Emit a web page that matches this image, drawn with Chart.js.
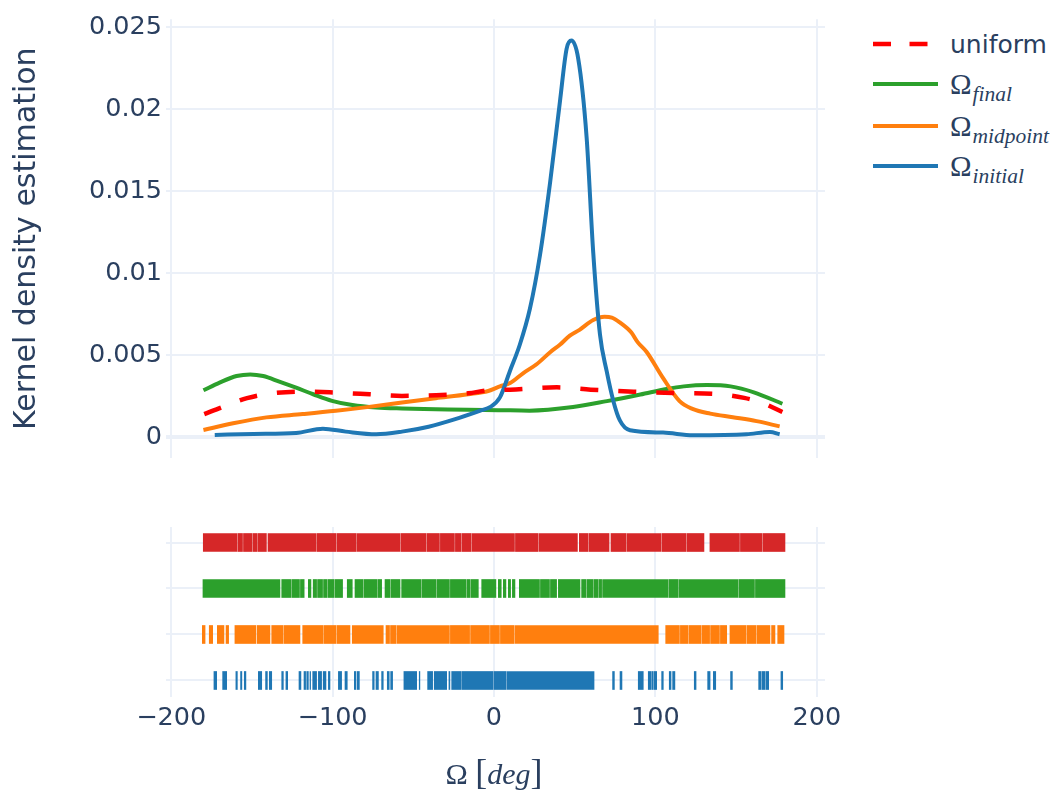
<!DOCTYPE html>
<html>
<head>
<meta charset="utf-8">
<script src="https://cdn.jsdelivr.net/npm/chart.js@4.4.1/dist/chart.umd.min.js"></script>
<style>
  body { margin: 0; background: #fff; width: 1056px; height: 796px; position: relative; overflow: hidden; font-family: "DejaVu Sans", sans-serif; color: #2a3f5f; }
  canvas { position: absolute; left: 0; }
  #kde { top: 0; }
  #rug { top: 470px; }
  #legend { position: absolute; left: 873px; top: 0; z-index: 2; }
  .item { position: absolute; left: 0; height: 40px; display: flex; align-items: center; white-space: nowrap; }
  .item svg { display: block; }
  .item .txt { margin-left: 12px; font-size: 25px; }
  .om { font-family: "Liberation Serif", serif; font-size: 29px; }
  .om sub { font-style: italic; font-size: 21.5px; vertical-align: -7px; line-height: 0; margin-left: 1px; }
  #xtitle { position: absolute; left: 394px; width: 200px; top: 752px; text-align: center; font-family: "Liberation Serif", serif; font-size: 30px; line-height: 40px; z-index: 2; }
  #xtitle .br { font-size: 36px; }
</style>
</head>
<body>
<canvas id="kde" width="870" height="480"></canvas>
<canvas id="rug" width="870" height="326"></canvas>
<div id="legend"></div>
<div id="xtitle">Ω <span class="br">[</span><i>deg</i><span class="br">]</span></div>
<script>
// Ejes
const xMin = -203.2, xMax = 205.1;
const xTicks = [-200, -100, 0, 100, 200];
const xTickLabels = ['\u2212200', '\u2212100', '0', '100', '200'];
const yTicks = [0, 0.005, 0.01, 0.015, 0.02, 0.025];
const yTickLabels = ['0', '0.005', '0.01', '0.015', '0.02', '0.025'];

// Curvas KDE
const uniformX = [-179.5, -168, -153, -139, -118.5, -98, -77, -57, -36, -16, -3.5, 10, 39, 60, 86.5, 111, 138, 155, 165, 178.7];
const uniformY = [0.00141, 0.00185, 0.00238, 0.00266, 0.00278, 0.00272, 0.00262, 0.00252, 0.00256, 0.00268, 0.00286, 0.0029, 0.00304, 0.0029, 0.00278, 0.0027, 0.00264, 0.0024, 0.00214, 0.00154];

const finalX = [-180, -170, -159.5, -151, -143, -133, -122.6, -112, -100.4, -87.7, -73, -57, -36, -16, 2.7, 22, 49, 70, 90.7, 107, 117.6, 132, 146.6, 161, 178.7];
const finalY = [0.00286, 0.00333, 0.00373, 0.00383, 0.00373, 0.00339, 0.00302, 0.00262, 0.00222, 0.00196, 0.00181, 0.00175, 0.00171, 0.00167, 0.00165, 0.00162, 0.00184, 0.0022, 0.0026, 0.00294, 0.0031, 0.00318, 0.0031, 0.00274, 0.00204];

const midX = [-180, -161.6, -141, -118.5, -98, -77.4, -57, -36, -16, -3.5, 3.7, 10, 18, 26.4, 35, 41, 47, 53, 61.5, 68.5, 73, 78, 85, 89, 94.6, 104.8, 115, 123, 134, 148, 162.7, 177];
const midY = [0.00044, 0.00085, 0.00121, 0.00141, 0.00161, 0.00185, 0.00212, 0.00238, 0.00262, 0.00282, 0.0031, 0.0033, 0.0039, 0.00445, 0.0052, 0.00565, 0.0062, 0.00655, 0.00715, 0.00735, 0.0073, 0.007, 0.0064, 0.0058, 0.0052, 0.0036, 0.0022, 0.00173, 0.00144, 0.00122, 0.00098, 0.00066];

const initX = [-173, -149, -122.6, -106, -91.8, -73, -57, -40.5, -24, -7.6, -2.5, 3.7, 9.9, 16, 22.3, 28.5, 34.7, 40.9, 45, 48, 52.2, 57.4, 61.5, 65.7, 69.8, 73.9, 78, 84.3, 104.8, 123.3, 156.5, 171, 177];
const initY = [0.00014, 0.0002, 0.00026, 0.00052, 0.00034, 0.00018, 0.00034, 0.00064, 0.0011, 0.00165, 0.00183, 0.00243, 0.00404, 0.00564, 0.00785, 0.0111, 0.01548, 0.0205, 0.0237, 0.0242, 0.0231, 0.0183, 0.01127, 0.00625, 0.00404, 0.00223, 0.00102, 0.00042, 0.00028, 0.00012, 0.00018, 0.00032, 0.00018];

// Rug: tramos [inicio, fin] de marcas, por fila
const rugRows = ['uniform', 'final', 'midpoint', 'initial'];
const rugUniform = [[-180.1,-159.3],[-158.7,-155.8],[-155.2,-149.8],[-149.2,-147.0],[-146.4,-141.0],[-140.0,-110.1],[-109.5,-97.8],[-97.2,-85.3],[-84.7,-58.1],[-57.5,-42.0],[-41.4,-33.8],[-33.2,-24.5],[-23.9,-20.3],[-19.7,-14.1],[-13.5,12.7],[13.3,27.2],[27.8,51.7],[52.9,58.2],[58.8,71.3],[72.5,81.9],[82.5,103.6],[104.2,119.1],[119.7,130.1],[133.8,152.1],[152.7,166.2],[166.8,180.3]];
const rugFinal = [[-180.3,-132.6],[-131.5,-125.6],[-125.0,-120.5],[-119.9,-117.6],[-115.0,-113.4],[-112.0,-109.9],[-109.3,-106.2],[-105.6,-103.3],[-102.7,-99.2],[-98.6,-93.8],[-90.9,-87.8],[-86.1,-81.2],[-80.6,-72.3],[-71.7,-69.6],[-67.5,-64.5],[-63.9,-58.2],[-57.2,-45.1],[-44.5,-35.8],[-35.2,-27.6],[-27.0,-17.2],[-16.6,-14.7],[-14.1,-9.7],[-7.6,1.2],[2.7,4.5],[5.8,7.4],[8.9,10.3],[11.4,13.0],[15.7,28.2],[28.8,34.4],[35.0,38.8],[39.9,53.3],[54.3,57.1],[57.7,61.2],[61.8,64.3],[64.9,66.7],[67.3,107.7],[108.3,114.2],[114.8,151.1],[151.7,161.4],[162.0,180.3]];
const rugMid = [[-180.7,-179.0],[-176.4,-174.3],[-171.4,-167.3],[-166.0,-164.4],[-160.5,-147.5],[-146.7,-138.8],[-137.7,-130.8],[-130.2,-120.2],[-118.5,-106.1],[-105.5,-97.8],[-97.2,-89.2],[-87.8,-68.6],[-66.9,-64.7],[-64.1,-60.6],[-60.0,-27.6],[-27.0,-15.1],[-14.5,-2.8],[-2.2,3.4],[4.0,12.3],[12.9,101.8],[106.4,114.9],[115.5,120.1],[120.7,128.4],[129.0,133.6],[134.2,139.7],[140.3,144.2],[146.2,156.2],[156.8,162.4],[163.0,171.0],[172.0,174.1],[175.8,179.7]];
const rugInit = [[-173.5,-171.8],[-168.1,-165.6],[-159.9,-159.0],[-157.0,-156.2],[-154.7,-153.7],[-146.0,-143.9],[-141.5,-140.4],[-139.2,-137.7],[-131.5,-130.5],[-128.9,-127.8],[-120.8,-119.6],[-117.7,-116.7],[-116.0,-115.0],[-114.0,-113.6],[-112.3,-109.9],[-108.8,-106.8],[-105.8,-104.1],[-102.6,-101.6],[-96.4,-94.4],[-92.3,-90.9],[-86.5,-85.5],[-84.7,-83.4],[-75.2,-74.2],[-73.1,-71.6],[-69.6,-68.6],[-66.1,-64.9],[-64.0,-62.8],[-55.8,-47.9],[-46.3,-45.9],[-41.1,-38.0],[-37.0,-29.3],[-27.9,-27.3],[-26.2,-20.2],[-19.6,-0.7],[-0.1,7.6],[8.2,62.0],[73.5,74.6],[78.1,79.3],[89.4,92.5],[95.6,97.1],[97.7,98.7],[99.3,100.8],[103.9,104.9],[108.6,109.7],[110.7,112.1],[124.1,125.2],[132.4,133.9],[135.9,137.4],[146.6,147.7],[164.0,165.5],[166.1,168.0],[168.6,170.2],[177.8,178.9]];

const textColor = '#2a3f5f';
const gridColor = '#ebf0f8';
const tickFont = { family: 'DejaVu Sans', size: 25.5 };

const pts = (xs, ys) => xs.map((x, i) => ({ x: x, y: ys[i] }));
const fixTicks = vals => scale => { scale.ticks = vals.map(v => ({ value: v })); };

// Gráfico superior: estimación de densidad
const kdeSeries = [
    { label: 'uniform', sub: null, data: pts(uniformX, uniformY), color: '#ff0000', dash: [18, 20], width: 4.5, order: 0 },
    { label: 'final', sub: 'final', data: pts(finalX, finalY), color: '#2ca02c', dash: [], width: 4, order: 3 },
    { label: 'midpoint', sub: 'midpoint', data: pts(midX, midY), color: '#ff7f0e', dash: [], width: 4, order: 2 },
    { label: 'initial', sub: 'initial', data: pts(initX, initY), color: '#1f77b4', dash: [], width: 4, order: 1 }
];

new Chart(document.getElementById('kde'), {
    type: 'line',
    data: {
        datasets: kdeSeries.map(s => ({
            label: s.label,
            data: s.data,
            borderColor: s.color,
            borderDash: s.dash,
            borderWidth: s.width,
            order: s.order,
            fill: false
        }))
    },
    options: {
        responsive: false,
        animation: false,
        layout: { padding: { left: 0, right: 45, top: 14, bottom: 22 } },
        elements: {
            point: { radius: 0 },
            line: { cubicInterpolationMode: 'monotone', borderCapStyle: 'butt' }
        },
        plugins: { legend: { display: false }, tooltip: { enabled: false } },
        scales: {
            x: {
                type: 'linear', min: xMin, max: xMax,
                afterBuildTicks: fixTicks(xTicks),
                ticks: { display: false },
                grid: { color: gridColor, lineWidth: 2, drawTicks: false },
                border: { display: false },
                afterFit: s => { s.height = 0; }
            },
            y: {
                type: 'linear', min: -0.00127, max: 0.0255,
                afterBuildTicks: fixTicks(yTicks),
                ticks: { padding: 4, color: textColor, font: tickFont, callback: (v, i) => yTickLabels[i] },
                grid: { color: gridColor, lineWidth: c => (c.tick && c.tick.value === 0 ? 4 : 2), drawTicks: false },
                border: { display: false },
                title: {
                    display: true, text: 'Kernel density estimation', color: textColor,
                    font: { family: 'DejaVu Sans', size: 30 }, padding: { top: 9, bottom: 0 }
                },
                afterFit: s => { s.width = 166; }
            }
        }
    }
});

// Gráfico inferior: rug
const rugSeries = [
    { segs: rugUniform, color: '#d62728' },
    { segs: rugFinal, color: '#2ca02c' },
    { segs: rugMid, color: '#ff7f0e' },
    { segs: rugInit, color: '#1f77b4' }
];

new Chart(document.getElementById('rug'), {
    type: 'bar',
    data: {
        datasets: rugSeries.map((s, row) => ({
            label: rugRows[row],
            data: s.segs.map(seg => ({ x: seg, y: row })),
            backgroundColor: s.color,
            borderWidth: 0,
            barThickness: 18,
            grouped: false
        }))
    },
    options: {
        indexAxis: 'y',
        responsive: false,
        animation: false,
        layout: { padding: { left: 0, right: 45, top: 57, bottom: 59 } },
        plugins: { legend: { display: false }, tooltip: { enabled: false } },
        scales: {
            x: {
                type: 'linear', min: xMin, max: xMax,
                afterBuildTicks: fixTicks(xTicks),
                ticks: { padding: 6, color: textColor, font: tickFont, maxRotation: 0, autoSkip: false, callback: (v, i) => xTickLabels[i] },
                grid: { color: gridColor, lineWidth: 2, drawTicks: false },
                border: { display: false },
                afterFit: s => { s.height = 40; }
            },
            y: {
                type: 'linear', min: -0.337, max: 3.359, reverse: true, offset: false,
                afterBuildTicks: fixTicks(rugRows.map((r, i) => i)),
                ticks: { display: false },
                grid: { color: gridColor, lineWidth: 2, drawTicks: false, offset: false },
                border: { display: false },
                afterFit: s => { s.width = 166; }
            }
        }
    }
});

// Leyenda en HTML (subíndices en cursiva)
const legendTops = [44, 84, 126, 166];
const legend = document.getElementById('legend');
kdeSeries.forEach((s, i) => {
    const item = document.createElement('div');
    item.className = 'item';
    item.style.top = (legendTops[i] - 20) + 'px';
    const dash = s.dash.length ? ' stroke-dasharray="' + s.dash[0] + ',' + (s.dash[1] - 1.5) + '"' : '';
    item.innerHTML = '<svg width="65" height="40"><line x1="0" y1="20" x2="65" y2="20" stroke="' + s.color +
        '" stroke-width="' + s.width + '"' + dash + '/></svg>';
    const txt = document.createElement('span');
    txt.className = 'txt';
    if (s.sub) {
        txt.innerHTML = '<span class="om">Ω<sub>' + s.sub + '</sub></span>';
    } else {
        txt.textContent = s.label;
    }
    item.appendChild(txt);
    legend.appendChild(item);
});
</script>
</body>
</html>
